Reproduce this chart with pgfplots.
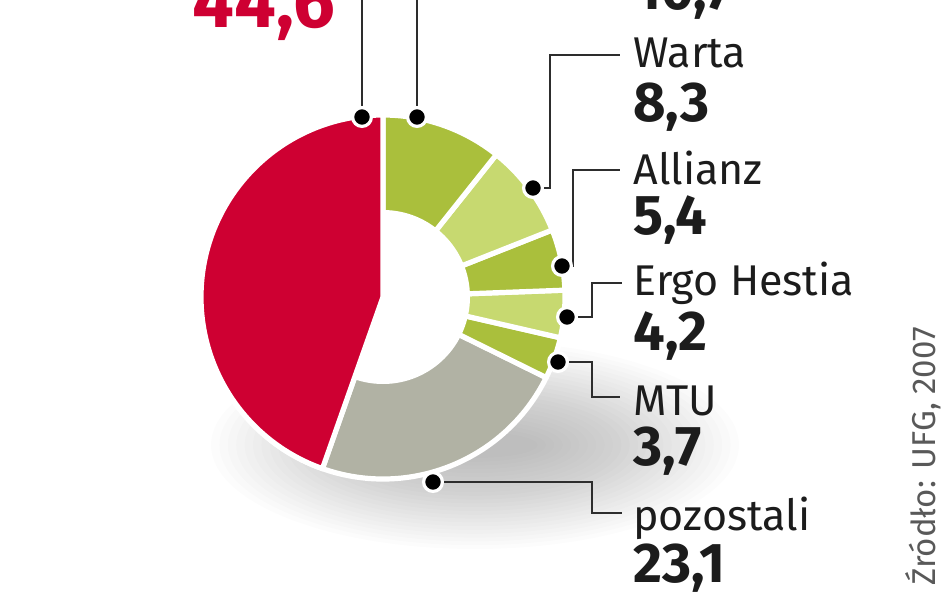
\documentclass[border=0pt]{standalone}
\usepackage{pgfplots}
\usepackage{pgfplotstable}
\pgfplotsset{compat=1.18}
\usepackage{fontspec}
\setmainfont{Fira Sans}
\definecolor{cRed}{RGB}{206,0,50}
\definecolor{cGray}{RGB}{177,178,164}
\definecolor{cGa}{RGB}{170,191,60}
\definecolor{cGb}{RGB}{199,217,112}
\definecolor{cTxt}{RGB}{28,28,28}
\definecolor{cLine}{RGB}{45,45,45}

% order: counter-clockwise from 12 o'clock
\pgfplotstableread{
name value col
lider 44.6 cRed
pozostali 23.1 cGray
MTU 3.7 cGa
ErgoHestia 4.2 cGb
Allianz 5.4 cGa
Warta 8.3 cGb
drugi 10.7 cGa
}\pie

\begin{document}
\begin{tikzpicture}
\begin{axis}[
  scale only axis, width=474pt, height=296.5pt,
  xmin=0, xmax=948, ymin=0, ymax=593, y dir=reverse,
  axis lines=none, clip=false,
]
% soft shadow
\pgfplotsforeachungrouped \k in {0,...,24}{
  \pgfmathsetmacro\rx{132-4.2*\k}
  \pgfmathsetmacro\ry{52-1.9*\k}
  \edef\tmp{\noexpand\fill[black, opacity=0.011] (axis cs:475,445) ellipse[x radius=\rx pt, y radius=\ry pt];}
  \tmp
}
% sectors
\def\angacc{90}
\pgfplotsforeachungrouped \i in {0,...,6}{
  \pgfplotstablegetelem{\i}{value}\of\pie \let\v\pgfplotsretval
  \pgfplotstablegetelem{\i}{col}\of\pie \let\c\pgfplotsretval
  \pgfmathsetmacro\a{\angacc}
  \pgfmathsetmacro\b{\angacc+3.6*\v}
  \edef\tmp{\noexpand\filldraw[fill=\c, draw=white, line width=2.6pt, line join=round] (axis cs:383,297) -- ++(\a:91pt) arc[start angle=\a, end angle=\b, radius=91pt] -- cycle;}
  \tmp
  \ifnum\i=0 \let\redcmd\tmp \fi
  \let\angacc\b
}
\fill[white] (axis cs:383,297) circle[radius=43.5pt];
\redcmd
% leader lines
\addplot[cLine, line width=1.2pt, mark=none] coordinates {(362,117) (362,-10)};
\addplot[cLine, line width=1.2pt, mark=none] coordinates {(417,117) (417,-10)};
\addplot[cLine, line width=1.2pt, mark=none] coordinates {(533,188) (550,188) (550,55) (620,55)};
\addplot[cLine, line width=1.2pt, mark=none] coordinates {(562,266) (573,266) (573,170) (620,170)};
\addplot[cLine, line width=1.2pt, mark=none] coordinates {(567,317) (592,317) (592,283) (622,283)};
\addplot[cLine, line width=1.2pt, mark=none] coordinates {(558,362) (592,362) (592,397) (620,397)};
\addplot[cLine, line width=1.2pt, mark=none] coordinates {(433,482) (592,482) (592,513) (622,513)};
% dots
\addplot[only marks, mark=*, mark size=4.7pt, mark options={fill=black, draw=white, line width=1.6pt}]
  coordinates {(362,117) (417,117) (533,188) (562,266) (567,317) (558,362) (433,482)};
% labels
\newcommand\lab{\fontsize{21.5}{24}\selectfont\color{cTxt}}
\newcommand\num{\fontsize{28}{30}\selectfont\bfseries\color{cTxt}}
\node[anchor=base west, inner sep=0pt] at (axis cs:633,68) {\lab Warta};
\node[anchor=base west, inner sep=0pt] at (axis cs:633,122) {\num 8,3};
\node[anchor=base west, inner sep=0pt] at (axis cs:633,185) {\lab Allianz};
\node[anchor=base west, inner sep=0pt] at (axis cs:633,235) {\num 5,4};
\node[anchor=base west, inner sep=0pt] at (axis cs:633,296) {\lab Ergo Hestia};
\node[anchor=base west, inner sep=0pt] at (axis cs:633,350) {\num 4,2};
\node[anchor=base west, inner sep=0pt] at (axis cs:633,415) {\lab MTU};
\node[anchor=base west, inner sep=0pt] at (axis cs:633,465) {\num 3,7};
\node[anchor=base west, inner sep=0pt] at (axis cs:633,530) {\lab pozostali};
\node[anchor=base west, inner sep=0pt] at (axis cs:633,582) {\num 23,1};
\node[anchor=base west, inner sep=0pt] at (axis cs:635,10) {\num 10,7};
\node[anchor=base west, inner sep=0pt] at (axis cs:192,28) {\fontsize{37}{40}\selectfont\bfseries\color{cRed}44,6};
\node[anchor=base west, inner sep=0pt, rotate=90] at (axis cs:935,586) {\fontsize{16.5}{18}\selectfont\color{black!65}Źródło: UFG, 2007};
\end{axis}
\pgfresetboundingbox
\useasboundingbox (0,0) rectangle (474pt,296.5pt);
\end{tikzpicture}
\end{document}
